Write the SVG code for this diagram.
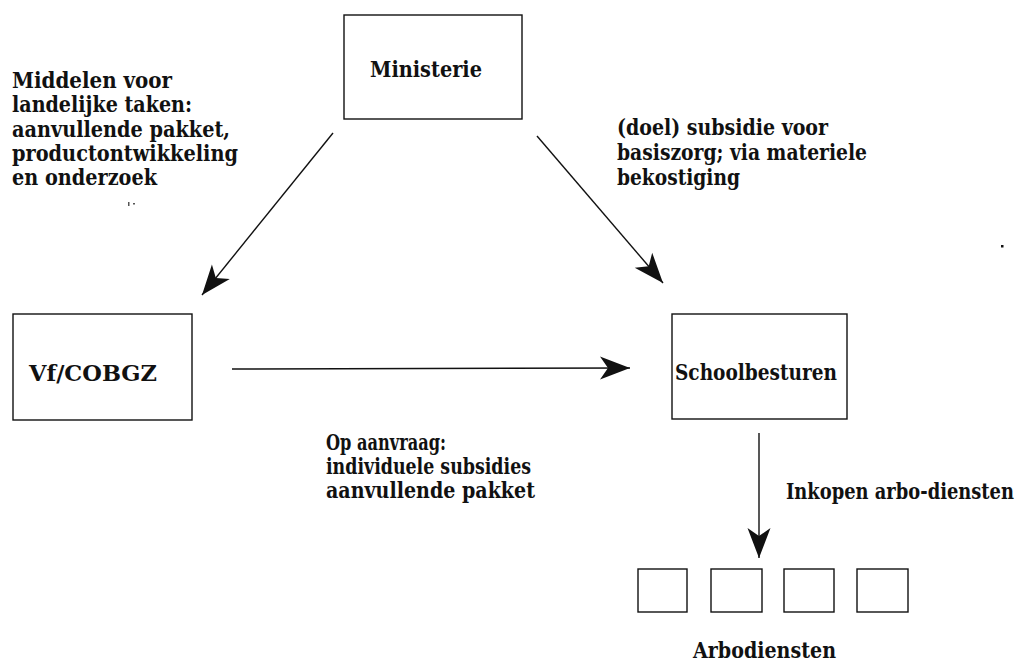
<svg xmlns="http://www.w3.org/2000/svg" width="1030" height="670" viewBox="0 0 1030 670">
<style>
text { font-family: "DejaVu Serif", "Liberation Serif", serif; font-weight: bold; font-size: 22px; fill: #111; }
.box { fill: #fff; stroke: #111; stroke-width: 1.4; }
.conn { stroke: #111; stroke-width: 1.4; fill: none; marker-end: url(#head); }
</style>
<defs>
<marker id="head" markerUnits="userSpaceOnUse" viewBox="-31 -13 32 26" refX="0" refY="0" markerWidth="32" markerHeight="26" orient="auto">
<path d="M0,0 L-30,-11.5 L-22,0 L-30,11.5 Z" fill="#111"/>
</marker>
</defs>
<rect width="1030" height="670" fill="#fff"/>
<g id="connectors">
<line class="conn" x1="333" y1="133" x2="202" y2="295"/>
<line class="conn" x1="537" y1="136" x2="663" y2="283"/>
<line class="conn" x1="232" y1="369" x2="630" y2="368"/>
<line class="conn" x1="759" y1="433" x2="759" y2="558"/>
</g>
<g id="ministerie">
<rect class="box" x="344" y="15" width="178" height="104"/>
<text x="370" y="77" textLength="112" lengthAdjust="spacingAndGlyphs">Ministerie</text>
</g>
<g id="vf-cobgz">
<rect class="box" x="13" y="314" width="179" height="106"/>
<text x="29" y="381" textLength="128" lengthAdjust="spacingAndGlyphs">Vf/COBGZ</text>
</g>
<g id="schoolbesturen">
<rect class="box" x="672" y="314" width="175" height="105"/>
<text x="675" y="380" textLength="162" lengthAdjust="spacingAndGlyphs">Schoolbesturen</text>
</g>
<g id="arbodiensten">
<rect class="box" x="638" y="569" width="49" height="43"/>
<rect class="box" x="711" y="569" width="51" height="43"/>
<rect class="box" x="784" y="569" width="50" height="43"/>
<rect class="box" x="857" y="569" width="51" height="43"/>
<text x="693" y="658" textLength="143" lengthAdjust="spacingAndGlyphs">Arbodiensten</text>
</g>
<g id="label-middelen">
<text x="12" y="88" textLength="160" lengthAdjust="spacingAndGlyphs">Middelen voor</text>
<text x="12" y="112" textLength="180" lengthAdjust="spacingAndGlyphs">landelijke taken:</text>
<text x="12" y="137" textLength="218" lengthAdjust="spacingAndGlyphs">aanvullende pakket,</text>
<text x="12" y="161" textLength="226" lengthAdjust="spacingAndGlyphs">productontwikkeling</text>
<text x="12" y="185" textLength="145" lengthAdjust="spacingAndGlyphs">en onderzoek</text>
</g>
<g id="label-doel">
<text x="617" y="135" textLength="211" lengthAdjust="spacingAndGlyphs">(doel) subsidie voor</text>
<text x="617" y="160" textLength="250" lengthAdjust="spacingAndGlyphs">basiszorg; via materiele</text>
<text x="617" y="185" textLength="123" lengthAdjust="spacingAndGlyphs">bekostiging</text>
</g>
<g id="label-aanvraag">
<text x="326" y="450" textLength="120" lengthAdjust="spacingAndGlyphs">Op aanvraag:</text>
<text x="326" y="474" textLength="205" lengthAdjust="spacingAndGlyphs">individuele subsidies</text>
<text x="326" y="498" textLength="209" lengthAdjust="spacingAndGlyphs">aanvullende pakket</text>
</g>
<g id="label-inkopen">
<text x="786" y="499" textLength="228" lengthAdjust="spacingAndGlyphs">Inkopen arbo-diensten</text>
</g>
<g id="specks">
<rect x="1001" y="245" width="2.5" height="2.5" fill="#111"/>
<rect x="128" y="202" width="1.5" height="4" fill="#555"/>
<rect x="133" y="203" width="2" height="1.5" fill="#555"/>
</g>
</svg>
